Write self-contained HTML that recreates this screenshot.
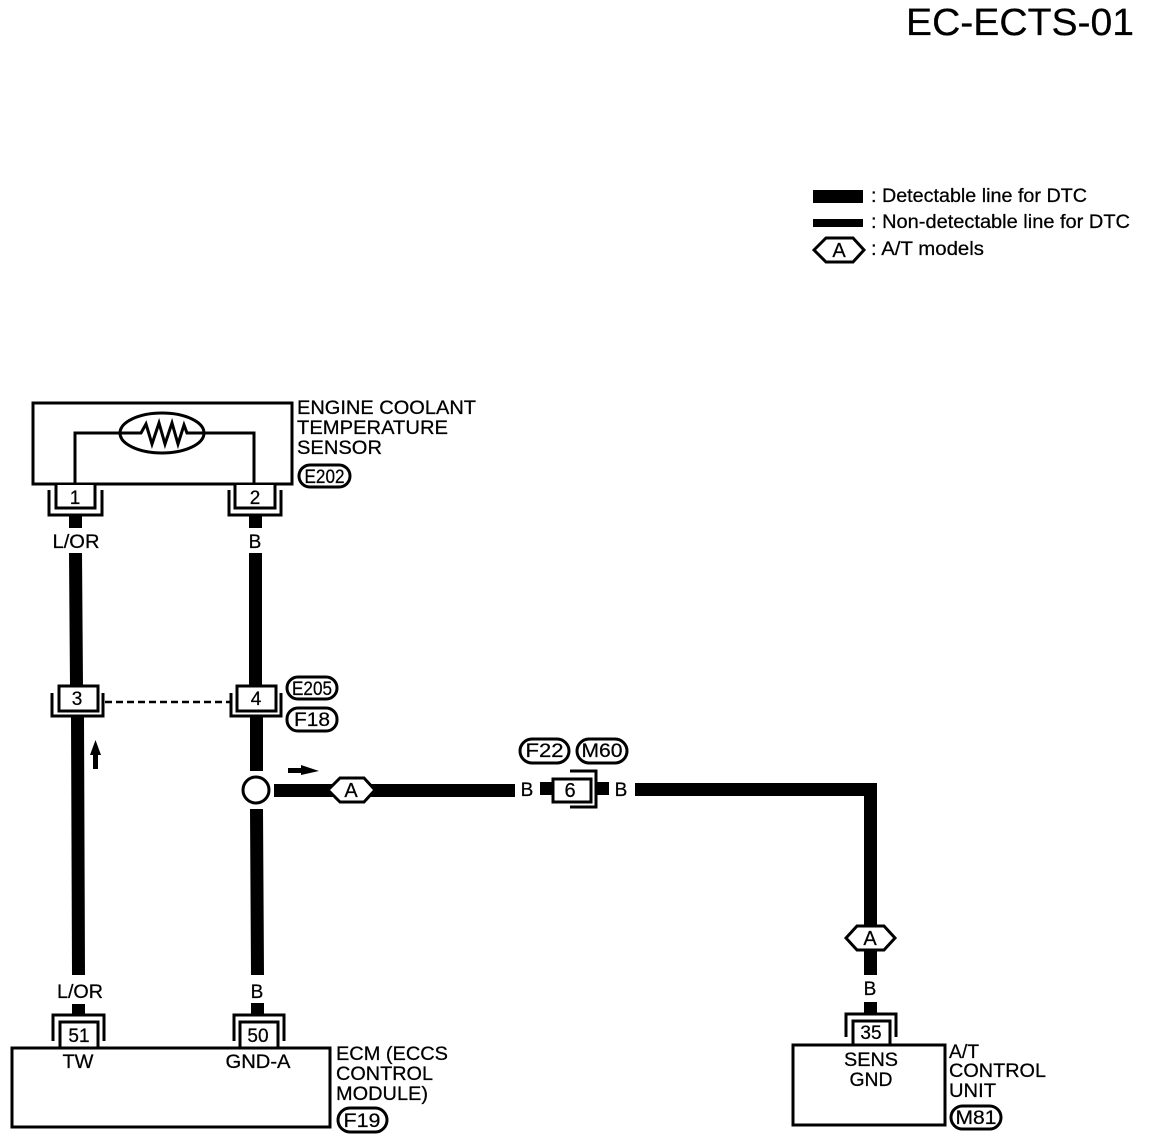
<!DOCTYPE html>
<html><head><meta charset="utf-8"><style>
html,body{margin:0;padding:0;background:#fff}
svg{display:block}
text{font-family:"Liberation Sans",sans-serif;fill:#000;font-size:19px;stroke:#000;stroke-width:.25}
.m{text-anchor:middle}
.n{fill:none;stroke:#000;stroke-width:3}
.p{fill:#fff;stroke:#000;stroke-width:3}
</style></head><body>
<svg width="1152" height="1140" viewBox="0 0 1152 1140" xmlns="http://www.w3.org/2000/svg">
<rect width="1152" height="1140" fill="#fff"/>
<text x="906" y="35" style="font-size:38px" textLength="228" lengthAdjust="spacingAndGlyphs">EC-ECTS-01</text>

<!-- legend -->
<rect x="813" y="190" width="50" height="13"/>
<rect x="813" y="219" width="50" height="8"/>
<polygon class="p" points="814,250 826,238 853,238 864,250 853,262 826,262"/>
<text x="839" y="257" class="m" style="font-size:20px">A</text>
<text x="871" y="202" textLength="216" lengthAdjust="spacingAndGlyphs">: Detectable line for DTC</text>
<text x="871" y="228" textLength="259" lengthAdjust="spacingAndGlyphs">: Non-detectable line for DTC</text>
<text x="871" y="255" textLength="113" lengthAdjust="spacingAndGlyphs">: A/T models</text>

<!-- sensor -->
<rect class="n" x="33" y="403" width="259" height="81"/>
<path class="n" d="M75 484V433H121M204 433H254V484"/>
<ellipse class="n" cx="162" cy="433" rx="42" ry="20"/>
<path class="n" d="M121 433H141L146 424L152 444L159 423L165 444L172 423L178 444L184 425L187 433H204" stroke-width="4"/>
<text x="297" y="414" textLength="179" lengthAdjust="spacingAndGlyphs">ENGINE COOLANT</text>
<text x="297" y="434" textLength="151" lengthAdjust="spacingAndGlyphs">TEMPERATURE</text>
<text x="297" y="454" textLength="85" lengthAdjust="spacingAndGlyphs">SENSOR</text>
<rect class="p" x="299" y="465" width="51" height="22" rx="11"/>
<text x="324.500" y="483" class="m" textLength="40" lengthAdjust="spacingAndGlyphs">E202</text>

<!-- connectors 1, 2 -->
<path class="n" d="M49 490V515H102V490M229 490V515H281V490"/>
<path class="p" d="M56 485V508H95V485"/>
<path class="p" d="M235 485V508H275V485"/>
<text x="75" y="504" class="m" style="font-size:19px">1</text>
<text x="255" y="504" class="m" style="font-size:19px">2</text>
<rect x="69" y="516" width="13" height="12"/>
<rect x="249" y="516" width="13" height="12"/>
<text x="76" y="548" class="m" textLength="47" lengthAdjust="spacingAndGlyphs">L/OR</text>
<text x="255" y="548" class="m">B</text>

<!-- wires -->
<polygon points="69,553 82,553 83,686 70,686"/>
<polygon points="71,717 84,717 85,975 72,975"/>
<rect x="249" y="553" width="13" height="134"/>
<rect x="250" y="717" width="13" height="54"/>
<polygon points="250,809 263,809 264,975 251,975"/>
<rect x="274" y="784" width="241" height="13"/>
<rect x="540" y="782" width="14" height="13"/>
<rect x="595" y="782" width="14" height="13"/>
<path d="M635 783H877V925H864V796H635Z"/>
<rect x="864" y="950" width="13" height="25"/>

<!-- connectors 3, 4 -->
<path class="n" d="M52 693V716H103V693"/>
<path class="n" d="M231 693V716H281V693"/>
<rect class="p" x="59" y="686" width="39" height="25"/>
<rect class="p" x="237" y="686" width="39" height="25"/>
<text x="77" y="705" class="m" style="font-size:19px">3</text>
<text x="256" y="705" class="m" style="font-size:19px">4</text>
<line x1="105" y1="702" x2="230" y2="702" stroke="#000" stroke-width="2.500" stroke-dasharray="7 4"/>
<rect class="p" x="287" y="677" width="50" height="22" rx="11"/>
<text x="312" y="695" class="m" textLength="40" lengthAdjust="spacingAndGlyphs">E205</text>
<rect class="p" x="287" y="708" width="50" height="23" rx="11"/>
<text x="312" y="726" class="m" textLength="36" lengthAdjust="spacingAndGlyphs">F18</text>

<!-- arrows -->
<path d="M93 769V755H90L95.500 740L101 755H98V769Z"/>
<path d="M288 768H301V765L319 771L301 775V773H288Z"/>

<!-- splice -->
<circle class="n" cx="256" cy="790" r="13"/>

<!-- A hexagons -->
<polygon class="p" points="328,790 340,778 364,778 375,790 364,802 340,802"/>
<text x="351" y="797" class="m" style="font-size:20px">A</text>
<polygon class="p" points="846,938 857,926 884,926 895,938 884,950 857,950"/>
<text x="870" y="945" class="m" style="font-size:20px">A</text>

<!-- connector 6 -->
<text x="527" y="796" class="m">B</text>
<text x="621" y="796" class="m">B</text>
<rect class="p" x="553" y="779" width="38" height="23"/>
<text x="570" y="797" class="m" style="font-size:20px">6</text>
<path class="n" d="M570 771H596V807H570"/>
<rect class="p" x="520" y="739" width="49" height="24" rx="12"/>
<text x="544.500" y="757" class="m" textLength="38" lengthAdjust="spacingAndGlyphs">F22</text>
<rect class="p" x="577" y="739" width="50" height="24" rx="12"/>
<text x="602" y="757" class="m" textLength="41" lengthAdjust="spacingAndGlyphs">M60</text>

<!-- ECM -->
<rect x="72" y="1004" width="13" height="10"/>
<rect x="251" y="1003" width="13" height="11"/>
<text x="80" y="998" class="m" textLength="46" lengthAdjust="spacingAndGlyphs">L/OR</text>
<text x="257" y="998" class="m">B</text>
<path class="n" d="M53 1041V1015H104V1041"/>
<path class="n" d="M234 1041V1015H284V1041"/>
<path class="p" d="M60 1047V1022H98V1047"/>
<path class="p" d="M240 1047V1022H278V1047"/>
<text x="79" y="1042" class="m" style="font-size:19px">51</text>
<text x="258" y="1042" class="m" style="font-size:19px">50</text>
<rect class="n" x="12" y="1048" width="318" height="79"/>
<text x="78" y="1068" class="m" textLength="31" lengthAdjust="spacingAndGlyphs">TW</text>
<text x="258" y="1068" class="m" textLength="65" lengthAdjust="spacingAndGlyphs">GND-A</text>
<text x="336" y="1060" textLength="112" lengthAdjust="spacingAndGlyphs">ECM (ECCS</text>
<text x="336" y="1080" textLength="97" lengthAdjust="spacingAndGlyphs">CONTROL</text>
<text x="336" y="1100" textLength="92" lengthAdjust="spacingAndGlyphs">MODULE)</text>
<rect class="p" x="338" y="1108" width="49" height="24" rx="12"/>
<text x="362" y="1127" class="m" textLength="37" lengthAdjust="spacingAndGlyphs">F19</text>

<!-- A/T unit -->
<text x="870" y="995" class="m">B</text>
<rect x="864" y="1002" width="13" height="11"/>
<path class="n" d="M846 1037V1014H896V1037"/>
<path class="p" d="M853 1045V1021H890V1045"/>
<text x="871" y="1039" class="m" style="font-size:19px">35</text>
<rect class="n" x="793" y="1045" width="152" height="80"/>
<text x="871" y="1066" class="m" textLength="54" lengthAdjust="spacingAndGlyphs">SENS</text>
<text x="871" y="1086" class="m" textLength="43" lengthAdjust="spacingAndGlyphs">GND</text>
<text x="949" y="1058" textLength="30" lengthAdjust="spacingAndGlyphs">A/T</text>
<text x="949" y="1077" textLength="97" lengthAdjust="spacingAndGlyphs">CONTROL</text>
<text x="949" y="1097" textLength="47" lengthAdjust="spacingAndGlyphs">UNIT</text>
<rect class="p" x="951" y="1106" width="50" height="23" rx="11.500"/>
<text x="976" y="1124" class="m" textLength="41" lengthAdjust="spacingAndGlyphs">M81</text>
</svg>
</body></html>
